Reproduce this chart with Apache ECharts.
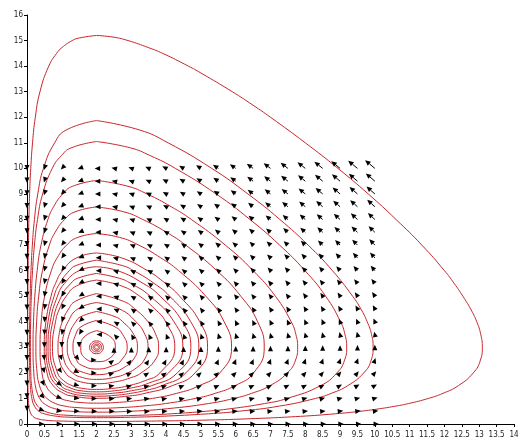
<!DOCTYPE html>
<html>
<head>
<meta charset="utf-8">
<title>Prey–predator phase portrait</title>
<script src="https://cdn.jsdelivr.net/npm/echarts@6.0.0/dist/echarts.min.js"></script>
<style>
  html, body { margin: 0; padding: 0; background: #fff; }
  #chart { width: 526px; height: 445px; }
</style>
</head>
<body>
<div id="chart"></div>
<script>
// Grid of the direction field (prey x, predator y)
const fieldXs = [0,0.5,1,1.5,2,2.5,3,3.5,4,4.5,5,5.5,6,6.5,7,7.5,8,8.5,9,9.5,10];
const fieldYs = [0,0.5,1,1.5,2,2.5,3,3.5,4,4.5,5,5.5,6,6.5,7,7.5,8,8.5,9,9.5,10];

// Horizontal field component, one row per fieldYs entry
const fieldU = [
  [0,1.5,3,4.5,6,7.5,9,10.5,12,13.5,15,16.5,18,19.5,21,22.5,24,25.5,27,28.5,30],
  [0,1.25,2.5,3.75,5,6.25,7.5,8.75,10,11.25,12.5,13.75,15,16.25,17.5,18.75,20,21.25,22.5,23.75,25],
  [0,1,2,3,4,5,6,7,8,9,10,11,12,13,14,15,16,17,18,19,20],
  [0,0.75,1.5,2.25,3,3.75,4.5,5.25,6,6.75,7.5,8.25,9,9.75,10.5,11.25,12,12.75,13.5,14.25,15],
  [0,0.5,1,1.5,2,2.5,3,3.5,4,4.5,5,5.5,6,6.5,7,7.5,8,8.5,9,9.5,10],
  [0,0.25,0.5,0.75,1,1.25,1.5,1.75,2,2.25,2.5,2.75,3,3.25,3.5,3.75,4,4.25,4.5,4.75,5],
  [0,0,0,0,0,0,0,0,0,0,0,0,0,0,0,0,0,0,0,0,0],
  [0,-0.25,-0.5,-0.75,-1,-1.25,-1.5,-1.75,-2,-2.25,-2.5,-2.75,-3,-3.25,-3.5,-3.75,-4,-4.25,-4.5,-4.75,-5],
  [0,-0.5,-1,-1.5,-2,-2.5,-3,-3.5,-4,-4.5,-5,-5.5,-6,-6.5,-7,-7.5,-8,-8.5,-9,-9.5,-10],
  [0,-0.75,-1.5,-2.25,-3,-3.75,-4.5,-5.25,-6,-6.75,-7.5,-8.25,-9,-9.75,-10.5,-11.25,-12,-12.75,-13.5,-14.25,-15],
  [0,-1,-2,-3,-4,-5,-6,-7,-8,-9,-10,-11,-12,-13,-14,-15,-16,-17,-18,-19,-20],
  [0,-1.25,-2.5,-3.75,-5,-6.25,-7.5,-8.75,-10,-11.25,-12.5,-13.75,-15,-16.25,-17.5,-18.75,-20,-21.25,-22.5,-23.75,-25],
  [0,-1.5,-3,-4.5,-6,-7.5,-9,-10.5,-12,-13.5,-15,-16.5,-18,-19.5,-21,-22.5,-24,-25.5,-27,-28.5,-30],
  [0,-1.75,-3.5,-5.25,-7,-8.75,-10.5,-12.25,-14,-15.75,-17.5,-19.25,-21,-22.75,-24.5,-26.25,-28,-29.75,-31.5,-33.25,-35],
  [0,-2,-4,-6,-8,-10,-12,-14,-16,-18,-20,-22,-24,-26,-28,-30,-32,-34,-36,-38,-40],
  [0,-2.25,-4.5,-6.75,-9,-11.25,-13.5,-15.75,-18,-20.25,-22.5,-24.75,-27,-29.25,-31.5,-33.75,-36,-38.25,-40.5,-42.75,-45],
  [0,-2.5,-5,-7.5,-10,-12.5,-15,-17.5,-20,-22.5,-25,-27.5,-30,-32.5,-35,-37.5,-40,-42.5,-45,-47.5,-50],
  [0,-2.75,-5.5,-8.25,-11,-13.75,-16.5,-19.25,-22,-24.75,-27.5,-30.25,-33,-35.75,-38.5,-41.25,-44,-46.75,-49.5,-52.25,-55],
  [0,-3,-6,-9,-12,-15,-18,-21,-24,-27,-30,-33,-36,-39,-42,-45,-48,-51,-54,-57,-60],
  [0,-3.25,-6.5,-9.75,-13,-16.25,-19.5,-22.75,-26,-29.25,-32.5,-35.75,-39,-42.25,-45.5,-48.75,-52,-55.25,-58.5,-61.75,-65],
  [0,-3.5,-7,-10.5,-14,-17.5,-21,-24.5,-28,-31.5,-35,-38.5,-42,-45.5,-49,-52.5,-56,-59.5,-63,-66.5,-70]
];

// Vertical field component, one row per fieldYs entry
const fieldV = [
  [0,0,0,0,0,0,0,0,0,0,0,0,0,0,0,0,0,0,0,0,0],
  [-1,-0.75,-0.5,-0.25,0,0.25,0.5,0.75,1,1.25,1.5,1.75,2,2.25,2.5,2.75,3,3.25,3.5,3.75,4],
  [-2,-1.5,-1,-0.5,0,0.5,1,1.5,2,2.5,3,3.5,4,4.5,5,5.5,6,6.5,7,7.5,8],
  [-3,-2.25,-1.5,-0.75,0,0.75,1.5,2.25,3,3.75,4.5,5.25,6,6.75,7.5,8.25,9,9.75,10.5,11.25,12],
  [-4,-3,-2,-1,0,1,2,3,4,5,6,7,8,9,10,11,12,13,14,15,16],
  [-5,-3.75,-2.5,-1.25,0,1.25,2.5,3.75,5,6.25,7.5,8.75,10,11.25,12.5,13.75,15,16.25,17.5,18.75,20],
  [-6,-4.5,-3,-1.5,0,1.5,3,4.5,6,7.5,9,10.5,12,13.5,15,16.5,18,19.5,21,22.5,24],
  [-7,-5.25,-3.5,-1.75,0,1.75,3.5,5.25,7,8.75,10.5,12.25,14,15.75,17.5,19.25,21,22.75,24.5,26.25,28],
  [-8,-6,-4,-2,0,2,4,6,8,10,12,14,16,18,20,22,24,26,28,30,32],
  [-9,-6.75,-4.5,-2.25,0,2.25,4.5,6.75,9,11.25,13.5,15.75,18,20.25,22.5,24.75,27,29.25,31.5,33.75,36],
  [-10,-7.5,-5,-2.5,0,2.5,5,7.5,10,12.5,15,17.5,20,22.5,25,27.5,30,32.5,35,37.5,40],
  [-11,-8.25,-5.5,-2.75,0,2.75,5.5,8.25,11,13.75,16.5,19.25,22,24.75,27.5,30.25,33,35.75,38.5,41.25,44],
  [-12,-9,-6,-3,0,3,6,9,12,15,18,21,24,27,30,33,36,39,42,45,48],
  [-13,-9.75,-6.5,-3.25,0,3.25,6.5,9.75,13,16.25,19.5,22.75,26,29.25,32.5,35.75,39,42.25,45.5,48.75,52],
  [-14,-10.5,-7,-3.5,0,3.5,7,10.5,14,17.5,21,24.5,28,31.5,35,38.5,42,45.5,49,52.5,56],
  [-15,-11.25,-7.5,-3.75,0,3.75,7.5,11.25,15,18.75,22.5,26.25,30,33.75,37.5,41.25,45,48.75,52.5,56.25,60],
  [-16,-12,-8,-4,0,4,8,12,16,20,24,28,32,36,40,44,48,52,56,60,64],
  [-17,-12.75,-8.5,-4.25,0,4.25,8.5,12.75,17,21.25,25.5,29.75,34,38.25,42.5,46.75,51,55.25,59.5,63.75,68],
  [-18,-13.5,-9,-4.5,0,4.5,9,13.5,18,22.5,27,31.5,36,40.5,45,49.5,54,58.5,63,67.5,72],
  [-19,-14.25,-9.5,-4.75,0,4.75,9.5,14.25,19,23.75,28.5,33.25,38,42.75,47.5,52.25,57,61.75,66.5,71.25,76],
  [-20,-15,-10,-5,0,5,10,15,20,25,30,35,40,45,50,55,60,65,70,75,80]
];

// Closed trajectories, outermost first
const orbitA = [[2,15.2],[2.5,15.13],[2.905,15],[3.5,14.72],[3.9,14.5],[4.64,14],[5,13.73],[5.9,13],[6.5,12.47],[7.0,12],[8.0,11],[8.94,10],[9.81,9],[10.61,8],[11.35,7],[12.0,6],[12.28,5.5],[12.53,5],[12.753,4.5],[12.93,4],[13.045,3.5],[13.09,3],[13.035,2.5],[12.83,2],[12.4,1.5],[11.96,1.2],[11.54,1],[10.97,0.8],[10.6,0.7],[10.153,0.6],[9.6,0.5],[8.865,0.4],[7.86,0.3],[6.3,0.2],[5.05,0.15],[3.89,0.12],[2,0.099],[0.853,0.12],[0.53,0.15],[0.316,0.2],[0.168,0.3],[0.082,0.5],[0.054,0.7],[0.037,1],[0.0255,1.5],[0.021,2],[0.019,3],[0.0205,4],[0.024,5],[0.031,6],[0.04,7],[0.054,8],[0.075,9],[0.108,10],[0.159,11],[0.239,12],[0.373,13],[0.625,14],[0.852,14.5],[1,14.72],[1.3,15],[1.5,15.1],[2,15.2]];
const orbitB = [[2,11.87],[3.24,11.5],[4.055,11],[5.31,10],[6.35,9],[7.27,8],[8.08,7],[8.78,6],[9.36,5],[9.598,4.5],[9.78,4],[9.905,3.5],[9.95,3],[9.895,2.5],[9.68,2],[9.22,1.5],[8.75,1.2],[8.294,1],[7.256,0.7],[6.1,0.5],[5.217,0.4],[3.845,0.3],[3.17,0.27],[2,0.247],[1.158,0.27],[0.87,0.3],[0.491,0.4],[0.343,0.5],[0.215,0.7],[0.1406,1],[0.0962,1.5],[0.0797,2],[0.071,3],[0.0765,4],[0.091,5],[0.115,6],[0.154,7],[0.214,8],[0.31,9],[0.473,10],[0.795,11],[1.125,11.5],[2,11.87]];
const orbitC = [[2,11.05],[2.98,10.8],[3.54,10.5],[4.265,10],[5.435,9],[6.41,8],[7.26,7],[7.99,6],[8.585,5],[9.013,4],[9.141,3.5],[9.19,3],[9.13,2.5],[8.91,2],[8.44,1.5],[7.48,1],[6.83,0.8],[5.86,0.6],[5.16,0.5],[4.155,0.4],[3.41,0.35],[2,0.308],[1.044,0.35],[0.76,0.4],[0.503,0.5],[0.378,0.6],[0.255,0.8],[0.196,1],[0.1327,1.5],[0.1093,2],[0.0975,3],[0.105,4],[0.125,5],[0.1597,6],[0.2145,7],[0.302,8],[0.45,9],[0.727,10],[0.99,10.5],[1.265,10.8],[2,11.05]];
const orbitD = [[2,9.53],[2.9,9.3],[3.45,9],[4.145,8.5],[4.725,8],[5.7,7],[6.5,6],[7.14,5],[7.595,4],[7.73,3.5],[7.78,3],[7.72,2.5],[7.485,2],[6.985,1.5],[6.46,1.2],[5.947,1],[5.217,0.8],[4.04,0.6],[3.0,0.5],[2,0.464],[1.253,0.5],[0.798,0.6],[0.491,0.8],[0.365,1],[0.2965,1.2],[0.2397,1.5],[0.1955,2],[0.1735,3],[0.187,4],[0.225,5],[0.292,6],[0.4035,7],[0.601,8],[0.765,8.5],[1.028,9],[1.31,9.3],[2,9.53]];
const orbitE = [[2,8.49],[2.785,8.3],[3.33,8],[4.01,7.5],[4.56,7],[5.455,6],[6.147,5],[6.63,4],[6.82,3],[6.515,2],[5.98,1.5],[5.412,1.2],[4.84,1],[3.982,0.8],[3.31,0.7],[2.81,0.65],[2,0.615],[1.36,0.65],[1.09,0.7],[0.8195,0.8],[0.573,1],[0.454,1.2],[0.36,1.5],[0.29,2],[0.2557,3],[0.277,4],[0.3365,5],[0.4455,6],[0.644,7],[0.81,7.5],[1.08,8],[1.38,8.3],[2,8.49]];
const orbitF = [[2,7.45],[2.66,7.3],[3.21,7],[3.845,6.5],[4.357,6],[5.14,5],[5.667,4],[5.88,3],[5.545,2],[4.955,1.5],[4.305,1.2],[3.6,1],[3.06,0.9],[2.66,0.85],[2,0.816],[1.46,0.85],[1.22,0.9],[0.962,1],[0.715,1.2],[0.547,1.5],[0.43,2],[0.3754,3],[0.409,4],[0.5065,5],[0.7,6],[0.867,6.5],[1.141,7],[1.46,7.3],[2,7.45]];
const orbitG = [[2,6.69],[2.715,6.5],[3.46,6],[3.98,5.5],[4.387,5],[4.967,4],[5.19,3],[4.832,2],[4.178,1.5],[3.39,1.2],[2.955,1.1],[2,1.006],[1.277,1.1],[1.054,1.2],[0.7545,1.5],[0.575,2],[0.496,3],[0.5445,4],[0.691,5],[0.82,5.5],[1.024,6],[1.425,6.5],[2,6.69]];
const orbitH = [[2,6.41],[2.735,6.2],[3.064,6],[3.655,5.5],[4.1,5],[4.707,4],[4.94,3],[4.567,2],[3.876,1.5],[3.36,1.3],[2.982,1.2],[2.6,1.13],[2,1.087],[1.5,1.13],[1.262,1.2],[1.068,1.3],[0.856,1.5],[0.642,2],[0.55,3],[0.605,4],[0.779,5],[0.94,5.5],[1.217,6],[1.41,6.2],[2,6.41]];
const orbitI = [[2,6.15],[2.6,6],[3.34,5.5],[3.827,5],[4.467,4],[4.71,3],[4.32,2],[3.582,1.5],[3.0,1.3],[2.45,1.2],[2,1.17],[1.6,1.2],[1.255,1.3],[0.971,1.5],[0.711,2],[0.605,3],[0.669,4],[0.875,5],[1.078,5.5],[1.5,6],[2,6.15]];
const orbitJ = [[2,5.89],[2.655,5.7],[2.982,5.5],[3.54,5],[4.225,4],[4.48,3],[4.07,2],[3.5,1.6],[2.97,1.4],[2.52,1.3],[2,1.258],[1.555,1.3],[1.268,1.4],[1.006,1.6],[0.789,2],[0.6655,3],[0.74,4],[0.99,5],[1.26,5.5],[1.455,5.7],[2,5.89]];
const orbitK = [[2,5.63],[2.72,5.4],[3.24,5],[3.675,4.5],[3.985,4],[4.25,3],[3.82,2],[3.4,1.7],[2.917,1.5],[2.51,1.4],[2,1.353],[1.565,1.4],[1.3,1.5],[1.05,1.7],[0.878,2],[0.732,3],[0.8195,4],[0.932,4.5],[1.128,5],[1.42,5.4],[2,5.63]];
const orbitL = [[2,5.1],[2.77,4.8],[3.102,4.5],[3.478,4],[3.702,3.5],[3.783,3],[3.68,2.5],[3.282,2],[2.96,1.8],[2.54,1.65],[2,1.577],[1.54,1.65],[1.275,1.8],[1.105,2],[0.932,2.5],[0.891,3],[0.922,3.5],[1.015,4],[1.196,4.5],[1.39,4.8],[2,5.1]];
const orbitM = [[2,4.75],[2.66,4.5],[3.133,4],[3.39,3.5],[3.478,3],[3.366,2.5],[3.15,2.2],[2.895,2],[2.59,1.85],[2,1.745],[1.51,1.85],[1.312,2],[1.17,2.2],[1.065,2.5],[1.014,3],[1.055,3.5],[1.18,4],[1.46,4.5],[2,4.75]];
const orbitN = [[2,4.4],[2.53,4.2],[2.753,4],[3.07,3.5],[3.175,3],[3.045,2.5],[2.775,2.2],[2.525,2.05],[2,1.93],[1.55,2.05],[1.385,2.2],[1.227,2.5],[1.157,3],[1.212,3.5],[1.4,4],[1.55,4.2],[2,4.4]];
const orbitO = [[2,4.05],[2.53,3.8],[2.75,3.5],[2.88,3],[2.715,2.5],[2.5,2.3],[2,2.15],[1.57,2.3],[1.425,2.5],[1.322,3],[1.4,3.5],[1.55,3.8],[2,4.05]];
const orbitP = [[2,3.65],[2.41,3.4],[2.54,3],[2.4,2.6],[2,2.44],[1.65,2.6],[1.545,3],[1.64,3.4],[2,3.65]];
// Tight loops around the equilibrium (2, 3)
const ringA = [[2.2,3],[2.141,3.177],[2,3.25],[1.859,3.177],[1.8,3],[1.859,2.823],[2,2.75],[2.141,2.823],[2.2,3]];
const ringB = [[2.147,3],[2.104,3.127],[2,3.18],[1.896,3.127],[1.853,3],[1.896,2.873],[2,2.82],[2.104,2.873],[2.147,3]];
const ringC = [[2.098,3],[2.069,3.085],[2,3.12],[1.931,3.085],[1.902,3],[1.931,2.915],[2,2.88],[2.069,2.915],[2.098,3]];
const ringD = [[2.057,3],[2.04,3.05],[2,3.07],[1.96,3.05],[1.943,3],[1.96,2.95],[2,2.93],[2.04,2.95],[2.057,3]];

const trajectories = [orbitA, orbitB, orbitC, orbitD, orbitE, orbitF, orbitG, orbitH,
  orbitI, orbitJ, orbitK, orbitL, orbitM, orbitN, orbitO, orbitP, ringA, ringB, ringC, ringD];

// Arrow length in axis units per unit of field strength
const ARROW_SCALE = 0.004;
const HEAD_LEN = 5.5;
const HEAD_HALF = 2.5;

const arrowData = [];
fieldYs.forEach((y, r) => {
  fieldXs.forEach((x, c) => {
    arrowData.push([x, y, fieldU[r][c], fieldV[r][c]]);
  });
});

function renderArrow(params, api) {
  const x = api.value(0), y = api.value(1);
  const u = api.value(2) * ARROW_SCALE, v = api.value(3) * ARROW_SCALE;
  if (u === 0 && v === 0) return null;
  const p0 = api.coord([x, y]);
  const p1 = api.coord([x + u, y + v]);
  const dx = p1[0] - p0[0], dy = p1[1] - p0[1];
  const len = Math.hypot(dx, dy);
  if (len === 0) return null;
  const ux = dx / len, uy = dy / len;
  const bx = p1[0] - ux * HEAD_LEN, by = p1[1] - uy * HEAD_LEN;
  const children = [];
  if (len > HEAD_LEN) {
    children.push({
      type: 'line',
      shape: { x1: p0[0], y1: p0[1], x2: bx, y2: by },
      style: { stroke: '#000', lineWidth: 1 }
    });
  }
  children.push({
    type: 'polygon',
    shape: { points: [[p1[0], p1[1]], [bx - uy * HEAD_HALF, by + ux * HEAD_HALF], [bx + uy * HEAD_HALF, by - ux * HEAD_HALF]] },
    style: { fill: '#000' }
  });
  return { type: 'group', children };
}

const labelFont = '"DejaVu Sans Condensed", "Liberation Sans Narrow", "Liberation Sans", sans-serif';

const series = trajectories.map(pts => ({
  type: 'line',
  data: pts,
  smooth: 0.5,
  symbol: 'none',
  silent: true,
  lineStyle: { color: '#c8262c', width: 1 },
  z: 2
}));

series.push({
  type: 'custom',
  renderItem: renderArrow,
  data: arrowData,
  encode: { x: 0, y: 1 },
  silent: true,
  z: 3
});

const chart = echarts.init(document.getElementById('chart'), null, { renderer: 'canvas' });
chart.setOption({
  animation: false,
  backgroundColor: '#fff',
  grid: { left: 27, right: 12, top: 15, bottom: 21 },
  xAxis: {
    type: 'value', min: 0, max: 14, interval: 0.5,
    axisLine: { show: true, lineStyle: { color: '#000', width: 1 } },
    axisTick: { show: true, length: 3, lineStyle: { color: '#000' } },
    splitLine: { show: false },
    axisLabel: { fontSize: 8, color: '#222', margin: 7, fontFamily: labelFont }
  },
  yAxis: {
    type: 'value', min: 0, max: 16, interval: 1,
    axisLine: { show: true, lineStyle: { color: '#000', width: 1 } },
    axisTick: { show: true, length: 3, lineStyle: { color: '#000' } },
    splitLine: { show: false },
    axisLabel: { fontSize: 8, color: '#222', margin: 4, fontFamily: labelFont }
  },
  series
});
</script>
</body>
</html>
